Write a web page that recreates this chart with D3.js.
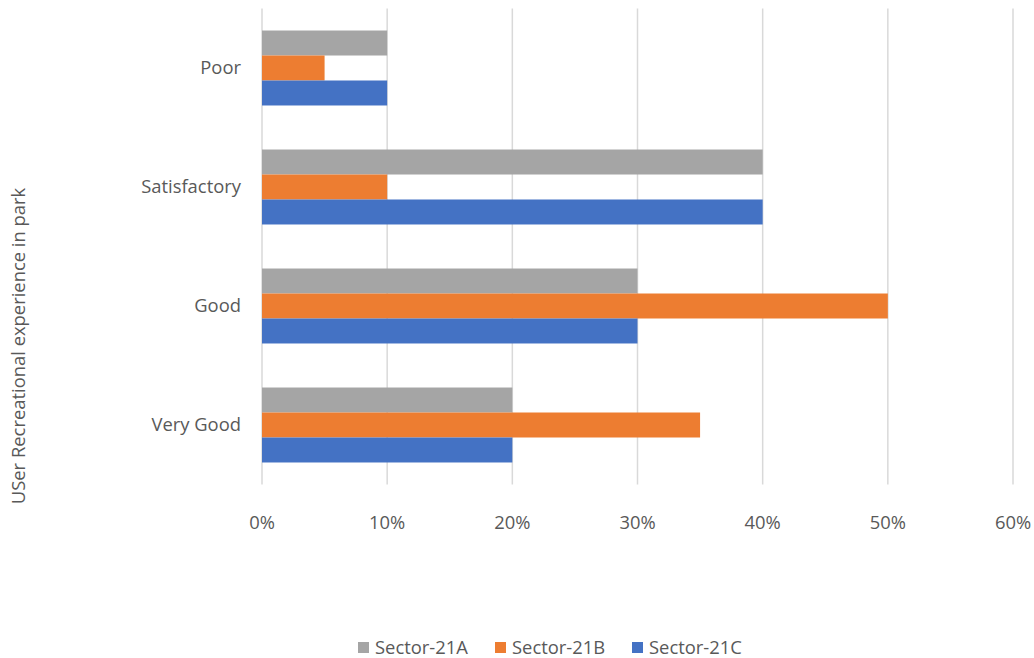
<!DOCTYPE html>
<html>
<head>
<meta charset="utf-8">
<script src="https://cdn.jsdelivr.net/npm/d3@7"></script>
<style>
  body { margin: 0; background: #fff; }
  text { font-family: "Open Sans", "Noto Sans", sans-serif; fill: #595959; }
</style>
</head>
<body>
<div id="chart"></div>
<script>
// categories (top to bottom) and series
const categories = ["Poor", "Satisfactory", "Good", "Very Good"];
const seriesNames = ["Sector-21A", "Sector-21B", "Sector-21C"];
const sector21A = [10, 40, 30, 20];
const sector21B = [5, 10, 50, 35];
const sector21C = [10, 40, 30, 20];
const xTicks = [0, 10, 20, 30, 40, 50, 60];
const colors = ["#a5a5a5", "#ed7d31", "#4472c4"];

const seriesValues = [sector21A, sector21B, sector21C];

// dimensions
const W = 1034, H = 658;
const margin = {top: 8.5, right: 21, bottom: 173.5, left: 262};
const width = W - margin.left - margin.right;
const height = H - margin.top - margin.bottom;
const fontSize = "18.4px";

const svg = d3.select("#chart")
    .append("svg")
        .attr("width", W)
        .attr("height", H)
    .append("g")
        .attr("transform", "translate(" + margin.left + "," + margin.top + ")");

// X scale
const x = d3.scaleLinear()
    .domain([0, 60])
    .range([0, width]);

// Y scale (categories)
const y = d3.scaleBand()
    .domain(categories)
    .range([0, height])
    .paddingInner(0.37)
    .paddingOuter(0.185);

// subgroup scale
const ySub = d3.scaleBand()
    .domain(seriesNames)
    .range([0, y.bandwidth()])
    .padding(0);

// gridlines
svg.append("g")
    .selectAll("line")
    .data(xTicks)
    .join("line")
        .attr("x1", d => x(d))
        .attr("x2", d => x(d))
        .attr("y1", 0)
        .attr("y2", height)
        .attr("stroke", "#d9d9d9")
        .attr("stroke-width", 1.5);

// bars
const groups = svg.append("g")
    .selectAll("g")
    .data(categories)
    .join("g")
        .attr("transform", d => "translate(0," + y(d) + ")");

groups.selectAll("rect")
    .data((c, i) => seriesNames.map((s, j) => ({series: s, value: seriesValues[j][i], color: colors[j]})))
    .join("rect")
        .attr("x", x(0))
        .attr("y", d => ySub(d.series))
        .attr("width", d => x(d.value) - x(0))
        .attr("height", ySub.bandwidth())
        .attr("fill", d => d.color);

// X axis labels
svg.append("g")
    .attr("transform", "translate(0," + height + ")")
    .selectAll("text")
    .data(xTicks)
    .join("text")
        .attr("x", d => x(d))
        .attr("y", 44)
        .attr("text-anchor", "middle")
        .attr("font-size", fontSize)
        .text(d => d + "%");

// Y axis labels
svg.append("g")
    .selectAll("text")
    .data(categories)
    .join("text")
        .attr("x", -21)
        .attr("y", d => y(d) + y.bandwidth() / 2)
        .attr("dy", "0.35em")
        .attr("text-anchor", "end")
        .attr("font-size", fontSize)
        .text(d => d);

// Y axis title
svg.append("text")
    .attr("text-anchor", "middle")
    .attr("font-size", fontSize)
    .attr("transform", "rotate(-90)")
    .attr("x", -(346 - margin.top))
    .attr("y", -margin.left + 25)
    .text("USer Recreational experience in park");

// legend
const legendX = [358, 495, 632];
const legend = d3.select("svg").append("g");
seriesNames.forEach((s, i) => {
    legend.append("rect")
        .attr("x", legendX[i])
        .attr("y", 642)
        .attr("width", 11)
        .attr("height", 11)
        .attr("fill", colors[i]);
    legend.append("text")
        .attr("x", legendX[i] + 17)
        .attr("y", 648)
        .attr("dy", "0.35em")
        .attr("font-size", fontSize)
        .text(s);
});
</script>
</body>
</html>
